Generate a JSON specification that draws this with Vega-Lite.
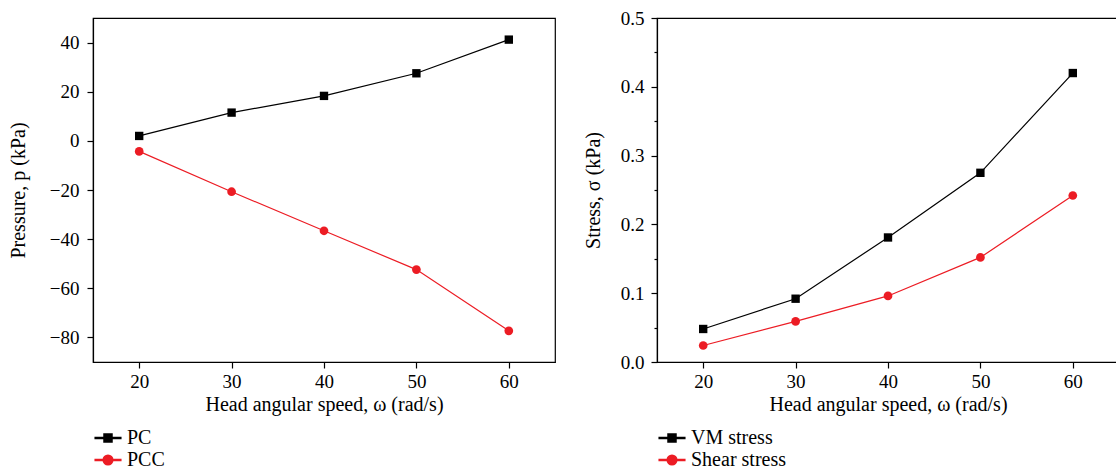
{
  "$schema": "https://vega.github.io/schema/vega-lite/v6.json",
  "padding": {"left": 7, "top": 8, "right": 0, "bottom": 0},
  "background": "white",
  "bounds": "flush",
  "spacing": 102,
  "config": {
    "font": "Liberation Serif",
    "view": {"stroke": "#000", "strokeWidth": 1.2},
    "axis": {
      "domainColor": "#000", "domainWidth": 1.2,
      "tickColor": "#000", "tickWidth": 1.2, "tickSize": 6,
      "grid": false,
      "labelFont": "Liberation Serif", "labelFontSize": 19, "labelColor": "#000",
      "titleFont": "Liberation Serif", "titleFontSize": 20, "titleFontWeight": "normal", "titleColor": "#000",
      "labelPadding": 7
    },
    "legend": {
      "labelFont": "Liberation Serif", "labelFontSize": 20, "labelColor": "#000",
      "padding": 0, "rowPadding": 2, "labelOffset": 9, "symbolSize": 256, "symbolOpacity": 1, "title": null
    }
  },
  "resolve": {"scale": {"color": "independent", "shape": "independent", "x": "independent", "y": "independent"}},
  "hconcat": [
    {
      "width": 462, "height": 344,
      "data": {"values": [
        {"omega": 20, "p": 2.0, "series": "PC"},
        {"omega": 30, "p": 11.5, "series": "PC"},
        {"omega": 40, "p": 18.3, "series": "PC"},
        {"omega": 50, "p": 27.5, "series": "PC"},
        {"omega": 60, "p": 41.2, "series": "PC"},
        {"omega": 20, "p": -4.3, "series": "PCC"},
        {"omega": 30, "p": -20.7, "series": "PCC"},
        {"omega": 40, "p": -36.6, "series": "PCC"},
        {"omega": 50, "p": -52.4, "series": "PCC"},
        {"omega": 60, "p": -77.3, "series": "PCC"}
      ]},
      "encoding": {
        "x": {"field": "omega", "type": "quantitative",
          "scale": {"domain": [15, 65], "nice": false, "zero": false},
          "axis": {"values": [20, 30, 40, 50, 60], "title": "Head angular speed, ω (rad/s)", "titlePadding": 3, "labelPadding": 4}},
        "y": {"field": "p", "type": "quantitative",
          "scale": {"domain": [-90, 50], "nice": false, "zero": false},
          "axis": {"values": [-80, -60, -40, -20, 0, 20, 40], "title": "Pressure, p (kPa)", "minExtent": 41, "maxExtent": 41, "titlePadding": 24, "labelPadding": 8}},
        "color": {"field": "series", "type": "nominal",
          "scale": {"domain": ["PC", "PCC"], "range": ["#000000", "#ec1c24"]},
          "legend": {"orient": "none", "legendX": 5, "legendY": 410, "symbolOpacity": 1}}
      },
      "layer": [
        {"mark": {"type": "line", "strokeWidth": 1.2}},
        {"transform": [{"filter": "datum.series == 'PC'"}],
          "mark": {"type": "point", "filled": true, "opacity": 1, "size": 70, "shape": "square"}},
        {"transform": [{"filter": "datum.series == 'PCC'"}],
          "mark": {"type": "point", "filled": true, "opacity": 1, "size": 76, "shape": "circle"}},
        {"mark": {"type": "point", "filled": true, "opacity": 0},
          "encoding": {"shape": {"field": "series", "type": "nominal",
            "scale": {"domain": ["PC", "PCC"], "range": [
              "M-1.6,-0.075H1.6V0.075H-1.6ZM-0.5,-0.5H0.5V0.5H-0.5Z",
              "M-1.6,-0.075H1.6V0.075H-1.6ZM0.6,0A0.6,0.6,0,1,1,-0.6,0A0.6,0.6,0,1,1,0.6,0Z"]},
            "legend": {"orient": "none", "legendX": 5, "legendY": 410, "symbolOpacity": 1}}}}
      ]
    },
    {
      "width": 462, "height": 344,
      "data": {"values": [
        {"omega": 20, "sigma": 0.048, "series": "VM stress"},
        {"omega": 30, "sigma": 0.092, "series": "VM stress"},
        {"omega": 40, "sigma": 0.181, "series": "VM stress"},
        {"omega": 50, "sigma": 0.275, "series": "VM stress"},
        {"omega": 60, "sigma": 0.420, "series": "VM stress"},
        {"omega": 20, "sigma": 0.024, "series": "Shear stress"},
        {"omega": 30, "sigma": 0.059, "series": "Shear stress"},
        {"omega": 40, "sigma": 0.096, "series": "Shear stress"},
        {"omega": 50, "sigma": 0.152, "series": "Shear stress"},
        {"omega": 60, "sigma": 0.242, "series": "Shear stress"}
      ]},
      "encoding": {
        "x": {"field": "omega", "type": "quantitative",
          "scale": {"domain": [15, 65], "nice": false, "zero": false},
          "axis": {"values": [20, 30, 40, 50, 60], "title": "Head angular speed, ω (rad/s)", "titlePadding": 3, "labelPadding": 4}},
        "y": {"field": "sigma", "type": "quantitative",
          "scale": {"domain": [0, 0.5], "nice": false, "zero": false},
          "axis": {"values": [0, 0.05, 0.1, 0.15, 0.2, 0.25, 0.3, 0.35, 0.4, 0.45, 0.5],
            "labelExpr": "abs(datum.value * 10 - round(datum.value * 10)) < 0.001 ? format(datum.value, '.1f') : ''",
            "tickSize": {"condition": {"test": "abs(datum.value * 10 - round(datum.value * 10)) < 0.001", "value": 6}, "value": 3},
            "title": "Stress, σ (kPa)", "minExtent": 39, "maxExtent": 39, "titlePadding": 15, "labelPadding": 7}},
        "color": {"field": "series", "type": "nominal",
          "scale": {"domain": ["VM stress", "Shear stress"], "range": ["#000000", "#ec1c24"]},
          "legend": {"orient": "none", "legendX": 5, "legendY": 410, "symbolOpacity": 1}}
      },
      "layer": [
        {"mark": {"type": "line", "strokeWidth": 1.2}},
        {"transform": [{"filter": "datum.series == 'VM stress'"}],
          "mark": {"type": "point", "filled": true, "opacity": 1, "size": 70, "shape": "square"}},
        {"transform": [{"filter": "datum.series == 'Shear stress'"}],
          "mark": {"type": "point", "filled": true, "opacity": 1, "size": 76, "shape": "circle"}},
        {"mark": {"type": "point", "filled": true, "opacity": 0},
          "encoding": {"shape": {"field": "series", "type": "nominal",
            "scale": {"domain": ["VM stress", "Shear stress"], "range": [
              "M-1.6,-0.075H1.6V0.075H-1.6ZM-0.5,-0.5H0.5V0.5H-0.5Z",
              "M-1.6,-0.075H1.6V0.075H-1.6ZM0.6,0A0.6,0.6,0,1,1,-0.6,0A0.6,0.6,0,1,1,0.6,0Z"]},
            "legend": {"orient": "none", "legendX": 5, "legendY": 410, "symbolOpacity": 1}}}}
      ]
    }
  ]
}
